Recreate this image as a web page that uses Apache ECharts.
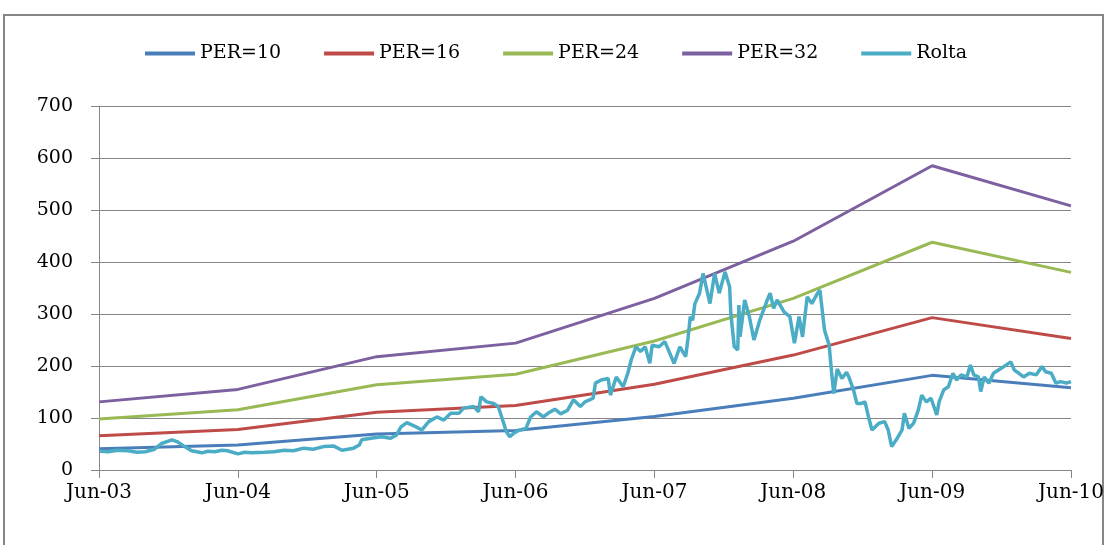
<!DOCTYPE html>
<html>
<head>
<meta charset="utf-8">
<script src="https://cdn.jsdelivr.net/npm/echarts@6/dist/echarts.min.js"></script>
<style>
  html, body { margin: 0; padding: 0; background: #fff; }
  #chart { width: 1107px; height: 545px; }
</style>
</head>
<body>
<div id="chart"></div>
<script>
// tick labels (one per June, months counted from Jun-03)
const xLabels = ["Jun-03", "Jun-04", "Jun-05", "Jun-06", "Jun-07", "Jun-08", "Jun-09", "Jun-10"];
const perMonths = [0, 12, 24, 36, 48, 60, 72, 84];

// price bands at each PE multiple
const per10 = [41, 48, 69, 76, 103, 138, 182, 158];
const per16 = [66, 78, 111, 124, 165, 221, 293, 253];
const per24 = [98, 116, 164, 184, 248, 330, 438, 380];
const per32 = [131, 155, 218, 244, 330, 440, 585, 508];

// Rolta share price: [months since Jun-03, price]
const rolta = [
  [0.1,36],[0.8,35],[1.6,38],[2.5,37],[3.3,34],[4.0,35],[4.8,40],[5.4,51],[6.3,58],[6.8,54],
  [7.4,45],[8.0,37],[8.9,33],[9.4,36],[10.0,35],[10.6,38],[11.1,37],[12.0,31],[12.6,34],[13.2,33],
  [14.3,34],[15.1,35],[16.0,38],[16.8,37],[17.7,42],[18.5,40],[19.4,45],[20.3,46],[21.0,38],[22.0,42],
  [22.5,48],[22.7,58],[23.5,61],[24.4,64],[25.2,61],[25.7,67],[26.1,83],[26.6,91],[27.4,83],[27.9,77],
  [28.5,93],[29.2,102],[29.8,96],[30.4,109],[31.1,109],[31.5,119],[32.4,122],[32.8,112],[33.0,141],[33.5,131],
  [34.1,128],[34.5,122],[34.8,102],[35.2,74],[35.5,64],[35.8,70],[36.1,74],[36.4,77],[36.9,80],[37.3,102],
  [37.8,112],[38.4,102],[38.8,109],[39.4,117],[39.9,108],[40.5,115],[41.0,135],[41.6,122],[42.0,131],[42.7,138],
  [42.9,167],[43.4,173],[44.0,176],[44.2,144],[44.7,179],[45.3,160],[45.7,186],[46.0,212],[46.4,237],[46.8,228],
  [47.2,237],[47.6,205],[47.8,240],[48.4,237],[48.9,247],[49.7,205],[50.2,237],[50.7,218],[50.9,253],[51.1,295],
  [51.3,288],[51.5,320],[51.9,340],[52.2,378],[52.4,359],[52.8,320],[53.2,378],[53.6,340],[54.1,381],[54.5,352],
  [54.6,301],[54.9,237],[55.2,231],[55.3,317],[55.4,256],[55.8,327],[56.2,295],[56.6,250],[57.1,288],[57.7,324],
  [58.0,340],[58.3,311],[58.6,327],[59.2,304],[59.7,295],[60.1,244],[60.5,295],[60.8,256],[61.2,333],[61.6,320],
  [62.1,340],[62.3,346],[62.7,269],[63.1,240],[63.3,190],[63.5,147],[63.8,194],[64.2,176],[64.6,188],[64.8,179],
  [65.2,154],[65.5,128],[65.9,128],[66.2,131],[66.5,102],[66.8,77],[67.4,90],[67.9,93],[68.2,77],[68.5,45],
  [68.9,58],[69.4,77],[69.6,109],[70.0,80],[70.4,90],[70.8,115],[71.1,144],[71.5,131],[71.9,138],[72.4,106],
  [72.6,131],[73.0,154],[73.4,160],[73.8,186],[74.1,173],[74.5,183],[75.0,179],[75.3,202],[75.6,183],[76.0,179],
  [76.2,151],[76.5,179],[76.9,167],[77.3,186],[78.0,196],[78.6,205],[78.8,208],[79.1,192],[79.5,186],[79.9,179],
  [80.4,186],[81.0,183],[81.5,199],[81.8,189],[82.3,186],[82.7,167],[83.1,170],[83.6,167],[84.0,170]
];

const font = "'DejaVu Serif', 'Liberation Serif', serif";
const gray = "#868686";

const pairUp = (vals) => vals.map((v, i) => [perMonths[i], v]);

const lineSeries = (name, data, color, width) => ({
  name: name,
  type: "line",
  data: data,
  symbol: "none",
  lineStyle: { color: color, width: width },
  itemStyle: { color: color },
  animation: false
});

const myChart = echarts.init(document.getElementById("chart"));
myChart.setOption({
  backgroundColor: "#fff",
  animation: false,
  graphic: [
    {
      type: "rect",
      shape: { x: 4, y: 15, width: 1099, height: 560 },
      style: { fill: "none", stroke: gray, lineWidth: 2 },
      silent: true
    }
  ],
  legend: {
    top: 39,
    left: 140,
    icon: "rect",
    itemWidth: 50,
    itemHeight: 4,
    itemGap: 43,
    textStyle: { fontFamily: font, fontSize: 19, color: "#000" },
    data: ["PER=10", "PER=16", "PER=24", "PER=32", "Rolta"]
  },
  grid: { left: 99, right: 32, top: 106, bottom: 75 },
  xAxis: {
    type: "value",
    min: 0,
    max: 84,
    interval: 12,
    axisLine: { lineStyle: { color: gray, width: 1 } },
    axisTick: { show: true, length: 8, inside: false, lineStyle: { color: gray } },
    splitLine: { show: false },
    axisLabel: {
      fontFamily: font,
      fontSize: 20,
      color: "#000",
      margin: 13,
      formatter: (v) => xLabels[Math.round(v / 12)]
    }
  },
  yAxis: {
    type: "value",
    min: 0,
    max: 700,
    interval: 100,
    axisLine: { show: true, lineStyle: { color: gray, width: 1 } },
    axisTick: { show: true, length: 8, lineStyle: { color: gray } },
    splitLine: { lineStyle: { color: gray, width: 1 } },
    axisLabel: { fontFamily: font, fontSize: 19, color: "#000", margin: 26 }
  },
  series: [
    lineSeries("PER=10", pairUp(per10), "#4a7ebb", 3),
    lineSeries("PER=16", pairUp(per16), "#be4b48", 3),
    lineSeries("PER=24", pairUp(per24), "#98b954", 3),
    lineSeries("PER=32", pairUp(per32), "#7d60a0", 3),
    lineSeries("Rolta", rolta, "#4bacc6", 3.5)
  ]
});
</script>
</body>
</html>
